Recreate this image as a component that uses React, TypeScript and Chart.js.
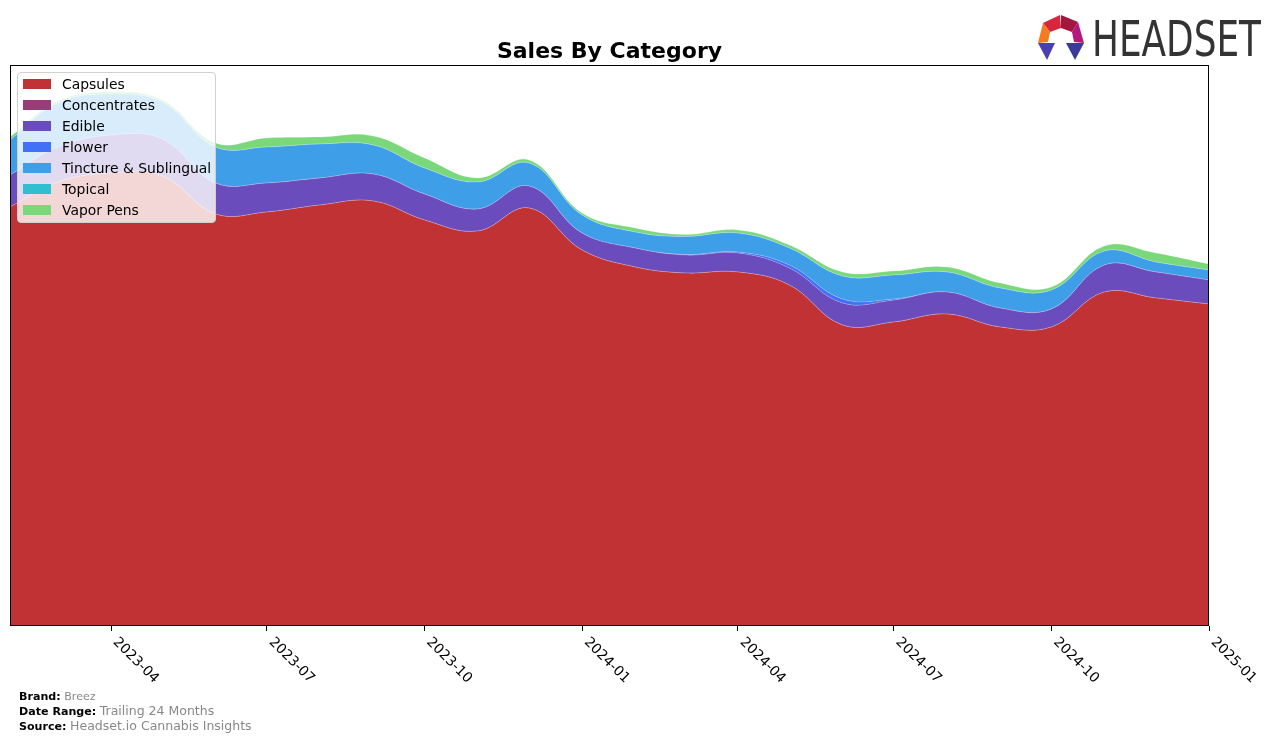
import React, { useEffect, useRef } from 'react';
import { Chart, registerables } from 'chart.js';

Chart.register(...registerables);

const months = [
  '2023-02', '2023-03', '2023-04', '2023-05', '2023-06', '2023-07', '2023-08', '2023-09',
  '2023-10', '2023-11', '2023-12', '2024-01', '2024-02', '2024-03', '2024-04', '2024-05',
  '2024-06', '2024-07', '2024-08', '2024-09', '2024-10', '2024-11', '2024-12', '2025-01',
];
const tickLabels = ['2023-04', '2023-07', '2023-10', '2024-01', '2024-04', '2024-07', '2024-10', '2025-01'];

const capsules = [419, 444, 453, 450, 412, 414, 421, 425, 406, 395, 418, 376, 359, 353, 354, 341, 301, 304, 312, 299, 299, 334, 328, 322];
const concentrates = [0, 0, 0, 0, 0, 0, 0, 0, 0, 0, 0, 0, 0, 0, 0, 0, 0, 0, 0, 0, 0, 0, 0, 0];
const edible = [32, 35, 38, 37, 31, 29, 27, 27, 26, 22, 22, 17, 19, 18, 19, 17, 22, 22, 22, 19, 18, 27, 26, 24];
const flower = [0, 0, 0, 0, 0, 0, 0, 0, 0, 0, 0, 0, 0, 0.5, 1, 3, 4, 1, 0, 0, 0, 0, 0, 0];
const tincture = [35, 44, 41, 37, 36, 36, 34, 29, 26, 27, 23, 18, 16, 18, 19, 17, 23, 24, 20, 20, 19, 14, 10, 10];
const topical = [0, 0, 0, 0, 0, 0, 0, 0, 0, 0, 0, 0, 0, 0, 0, 0, 0, 0, 0, 0, 0, 0, 0, 0];
const vapor = [3, 2, 2, 2, 4, 9, 7, 9, 10, 4, 3, 2, 4, 2, 3, 3, 4, 4, 5, 5, 3, 5, 9, 6];

const seriesNames = ['Capsules', 'Concentrates', 'Edible', 'Flower', 'Tincture & Sublingual', 'Topical', 'Vapor Pens'];
const seriesColors = ['#c03233', '#993d78', '#6a4cbd', '#4171f6', '#3e9fe8', '#2fbfd1', '#7ad87a'];
const seriesValues = [capsules, concentrates, edible, flower, tincture, topical, vapor];

const FONT = '"DejaVu Sans", sans-serif';

const dayOf = (m: string) => {
  const [y, mo] = m.split('-').map(Number);
  return (Date.UTC(y, mo - 1, 1) - Date.UTC(2023, 1, 1)) / 86400000;
};

const decorPlugin = {
  id: 'decor',
  afterDraw(chart: any) {
    const { ctx, chartArea: a, scales } = chart;
    ctx.save();
    ctx.strokeStyle = '#000';
    ctx.lineWidth = 1;
    ctx.strokeRect(a.left + 0.5, a.top + 0.5, a.right - a.left - 1, a.bottom - a.top - 1);
    ctx.font = `13.9px ${FONT}`;
    ctx.fillStyle = '#000';
    ctx.textAlign = 'left';
    ctx.textBaseline = 'top';
    for (const lab of tickLabels) {
      const x = scales.x.getPixelForValue(dayOf(lab));
      ctx.save();
      ctx.translate(x + 9, a.bottom + 9);
      ctx.rotate(Math.PI / 4);
      ctx.fillText(lab, 0, 0);
      ctx.restore();
    }
    ctx.restore();
  },
};

export default function App() {
  const ref = useRef<HTMLCanvasElement>(null);

  useEffect(() => {
    if (!ref.current) return;
    const chart = new Chart(ref.current, {
      type: 'line',
      data: {
        datasets: seriesNames.map((name, i) => ({
          label: name,
          data: months.map((m, j) => ({ x: dayOf(m), y: seriesValues[i][j] })),
          backgroundColor: seriesColors[i],
          borderColor: 'rgba(255,255,255,0.3)',
          borderWidth: 0.7,
          pointRadius: 0,
          fill: i === 0 ? 'origin' : '-1',
          tension: 0.4,
        })),
      },
      options: {
        animation: false,
        responsive: false,
        devicePixelRatio: 1,
        layout: { padding: { left: 10, right: 67, top: 65, bottom: 0 } },
        plugins: {
          legend: { display: false },
          tooltip: { enabled: false },
          title: { display: false },
        },
        scales: {
          x: {
            type: 'linear',
            min: 0,
            max: dayOf('2025-01'),
            afterBuildTicks: (s: any) => {
              s.ticks = tickLabels.map((l) => ({ value: dayOf(l) }));
            },
            afterFit: (s: any) => {
              s.height = 116;
            },
            ticks: { display: false },
            grid: {
              display: true,
              drawOnChartArea: false,
              drawTicks: true,
              tickLength: 5,
              color: '#000',
              tickColor: '#000',
              lineWidth: 1,
            },
            border: { display: false },
          },
          y: {
            display: false,
            stacked: true,
            min: 0,
            max: 561,
          },
        },
      },
      plugins: [decorPlugin],
    });
    return () => chart.destroy();
  }, []);

  return (
    <div style={{ position: 'absolute', left: 0, top: 0, width: 1276, height: 742, background: '#fff', fontFamily: FONT }}>
      <canvas ref={ref} width={1276} height={742} style={{ position: 'absolute', left: 0, top: 0, width: 1276, height: 742 }} />
      <div style={{ position: 'absolute', left: 10, width: 1199, top: 37, textAlign: 'center', fontWeight: 'bold', fontSize: 22, lineHeight: '28px', color: '#000' }}>
        Sales By Category
      </div>
      <div style={{ position: 'absolute', left: 17, top: 72, width: 197, height: 149, border: '1px solid #d0d0d0', borderRadius: 4, background: 'rgba(255,255,255,0.8)' }}>
        {seriesNames.map((n, i) => (
          <div key={n} style={{ position: 'absolute', left: 0, top: 1 + i * 21, height: 21, width: 197 }}>
            <div style={{ position: 'absolute', left: 5, top: 5, width: 28, height: 10, background: seriesColors[i] }} />
            <div style={{ position: 'absolute', left: 44, top: 0, fontSize: 13.9, lineHeight: '20px', color: '#000', whiteSpace: 'nowrap' }}>{n}</div>
          </div>
        ))}
      </div>
      <div style={{ position: 'absolute', left: 19, top: 690, fontSize: 11.1, lineHeight: '14px', whiteSpace: 'nowrap' }}>
        <div><b>Brand:</b> <span style={{ color: '#888' }}>Breez</span></div>
        <div><b>Date Range:</b> <span style={{ color: '#888', fontSize: 12.5 }}>Trailing 24 Months</span></div>
        <div><b>Source:</b> <span style={{ color: '#888', fontSize: 12.5 }}>Headset.io Cannabis Insights</span></div>
      </div>
      <svg style={{ position: 'absolute', left: 1030, top: 8, width: 240, height: 60 }} viewBox="1030 8 240 60">
        <polygon points="1043,23 1060,15 1061,28 1050,32" fill="#d7263d" />
        <polygon points="1061,15 1078,22 1072,32 1061,28" fill="#a3173f" />
        <polygon points="1043,23 1050,32 1048,42 1038,43" fill="#f47b20" />
        <polygon points="1078,22 1084,43 1074,42 1072,32" fill="#b5177f" />
        <polygon points="1038,43 1055,43 1047,60" fill="#4a3fb0" />
        <polygon points="1066,43 1084,43 1075,60" fill="#3b3a9a" />
        <text x={1092} y={56} fontFamily={FONT} fontSize={50} fill="#333" textLength={169} lengthAdjust="spacingAndGlyphs">HEADSET</text>
      </svg>
    </div>
  );
}
